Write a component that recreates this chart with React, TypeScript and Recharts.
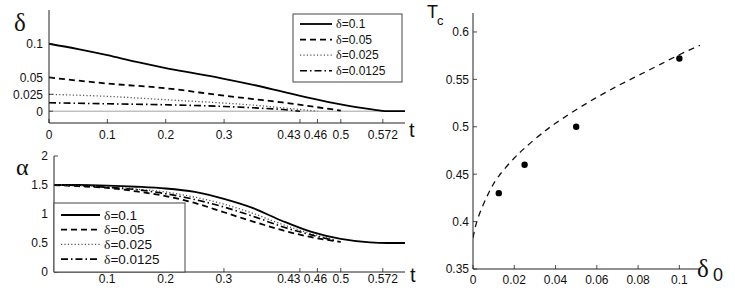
import React from 'react'
import {
  LineChart,
  ComposedChart,
  Line,
  Scatter,
  XAxis,
  YAxis,
  ReferenceLine
} from 'recharts'

// top panel: delta(t) for four initial deltas
const DELTA_T1 = [0, 0.05, 0.1, 0.15, 0.2, 0.25, 0.3, 0.35, 0.4, 0.45, 0.5, 0.55, 0.58, 0.61]
const DELTA_V1 = [0.1, 0.092, 0.083, 0.073, 0.064, 0.056, 0.048, 0.039, 0.029, 0.019, 0.01, 0.003, 0, 0]
const DELTA_T2 = [0, 0.1, 0.2, 0.3, 0.35, 0.4, 0.45, 0.5]
const DELTA_V2 = [0.05, 0.041, 0.034, 0.023, 0.018, 0.013, 0.007, 0.001]
const DELTA_T3 = [0, 0.1, 0.2, 0.3, 0.35, 0.4, 0.46]
const DELTA_V3 = [0.025, 0.022, 0.017, 0.012, 0.009, 0.005, 0]
const DELTA_T4 = [0, 0.1, 0.2, 0.3, 0.35, 0.4, 0.43]
const DELTA_V4 = [0.0125, 0.011, 0.0095, 0.007, 0.005, 0.0025, 0]

// bottom panel: alpha(t)
const ALPHA_T1 = [0.009, 0.05, 0.1, 0.15, 0.2, 0.25, 0.3, 0.35, 0.4, 0.45, 0.5, 0.55, 0.58, 0.61]
const ALPHA_V1 = [1.5, 1.5, 1.49, 1.47, 1.44, 1.38, 1.26, 1.1, 0.88, 0.69, 0.57, 0.51, 0.5, 0.5]
const ALPHA_T2 = [0.009, 0.05, 0.1, 0.15, 0.2, 0.25, 0.3, 0.35, 0.4, 0.45, 0.5]
const ALPHA_V2 = [1.5, 1.48, 1.45, 1.39, 1.31, 1.19, 1.03, 0.87, 0.72, 0.6, 0.52]
const ALPHA_T3 = [0.009, 0.05, 0.1, 0.15, 0.2, 0.25, 0.3, 0.35, 0.4, 0.45, 0.49]
const ALPHA_V3 = [1.5, 1.49, 1.47, 1.43, 1.38, 1.29, 1.17, 1.01, 0.82, 0.66, 0.55]
const ALPHA_T4 = [0.009, 0.05, 0.1, 0.15, 0.2, 0.25, 0.3, 0.35, 0.4, 0.45, 0.49]
const ALPHA_V4 = [1.5, 1.49, 1.46, 1.42, 1.35, 1.25, 1.12, 0.96, 0.78, 0.64, 0.54]

// right panel: Tc vs delta0
const TC_POINT_X = [0.0125, 0.025, 0.05, 0.1]
const TC_POINT_Y = [0.43, 0.46, 0.5, 0.572]
const TC_CURVE_X = [0, 0.002, 0.005, 0.008, 0.0125, 0.02, 0.025, 0.03, 0.035, 0.04, 0.05, 0.06, 0.07, 0.08, 0.09, 0.1, 0.11]
const TC_CURVE_Y = [0.383, 0.401, 0.418, 0.432, 0.448, 0.467, 0.4775, 0.487, 0.4957, 0.5037, 0.518, 0.531, 0.543, 0.554, 0.565, 0.576, 0.586]

const T_TICKS_TOP = [0, 0.1, 0.2, 0.3, 0.43, 0.46, 0.5, 0.572]
const T_TICKS_BOTTOM = [0.1, 0.2, 0.3, 0.43, 0.46, 0.5, 0.572]
const DELTA_TICKS = [0, 0.025, 0.05, 0.1]
const ALPHA_TICKS = [0, 0.5, 1, 1.5, 2]
const TC_X_TICKS = [0, 0.02, 0.04, 0.06, 0.08, 0.1]
const TC_Y_TICKS = [0.35, 0.4, 0.45, 0.5, 0.55, 0.6]
const LEGEND_LABELS = ['0.1', '0.05', '0.025', '0.0125']

const zip = (xs: number[], ys: number[]) => xs.map((x, i) => ({ x, y: ys[i] }))

const AX = '#222'
const SANS = '"Liberation Sans", Arial, Helvetica, sans-serif'
const SERIF = '"Liberation Serif", "Times New Roman", serif'
const TL = 4 // inward tick length
const TICK_FS = 12

const STYLES = [
  { stroke: '#000', strokeWidth: 1.8, dash: undefined },
  { stroke: '#000', strokeWidth: 1.8, dash: '6 4' },
  { stroke: '#555', strokeWidth: 1.3, dash: '1.2 2.2' },
  { stroke: '#000', strokeWidth: 1.6, dash: '7 3 1.5 3' }
]

// MATLAB style ticks: short marks pointing into the box, labels outside
const BottomTick = (props: any) => {
  const { x, y, payload, gap = 7 } = props
  const v = payload.value
  // 0.43 and 0.46 sit close together, nudge them apart a little
  const dx = v === 0.43 ? -11 : v === 0.46 ? -2 : 0
  return (
    <g>
      <line x1={x} x2={x} y1={y} y2={y - TL} stroke={AX} strokeWidth={0.8} />
      <text x={x + dx} y={y + gap} dy="0.71em" textAnchor="middle" fontSize={TICK_FS} fill="#111" fontFamily={SANS}>
        {String(v)}
      </text>
    </g>
  )
}

const LeftTick = (props: any) => {
  const { x, y, payload, gap = 6 } = props
  return (
    <g>
      <line x1={x} x2={x + TL} y1={y} y2={y} stroke={AX} strokeWidth={0.8} />
      <text x={x - gap} y={y} dy="0.36em" textAnchor="end" fontSize={TICK_FS} fill="#111" fontFamily={SANS}>
        {String(payload.value)}
      </text>
    </g>
  )
}

const TopTick = (props: any) => (
  <line x1={props.x} x2={props.x} y1={props.y} y2={props.y + TL} stroke={AX} strokeWidth={0.8} />
)

const RightTick = (props: any) => (
  <line x1={props.x} x2={props.x - TL} y1={props.y} y2={props.y} stroke={AX} strokeWidth={0.8} />
)

function Frame({ xDomain, yDomain, xTicks, yTicks, xHeight, yWidth, xGap, yGap }: any) {
  return [
    <XAxis key="xb" xAxisId="b" dataKey="x" type="number" domain={xDomain} ticks={xTicks} interval={0}
      allowDataOverflow height={xHeight} stroke={AX} tickLine={false} tickSize={0} tickMargin={0}
      tick={<BottomTick gap={xGap} />} />,
    <XAxis key="xt" xAxisId="top" orientation="top" dataKey="x" type="number" domain={xDomain} ticks={xTicks}
      interval={0} allowDataOverflow height={0} stroke={AX} tickLine={false} tickSize={0} tickMargin={0}
      tick={<TopTick />} />,
    <YAxis key="yl" yAxisId="l" dataKey="y" type="number" domain={yDomain} ticks={yTicks} interval={0}
      allowDataOverflow width={yWidth} stroke={AX} tickLine={false} tickSize={0} tickMargin={0}
      tick={<LeftTick gap={yGap} />} />,
    <YAxis key="yr" yAxisId="r" orientation="right" dataKey="y" type="number" domain={yDomain} ticks={yTicks}
      interval={0} allowDataOverflow width={0} stroke={AX} tickLine={false} tickSize={0} tickMargin={0}
      tick={<RightTick />} />
  ]
}

function Legend({ x, y, w, h, rowGap, first, sampleW, fontSize }: any) {
  return (
    <g>
      <rect x={x} y={y} width={w} height={h} fill="#fff" stroke="#444" strokeWidth={1} />
      {LEGEND_LABELS.map((lab, i) => {
        const cy = first + i * rowGap
        const s = STYLES[i]
        return (
          <g key={lab}>
            <line x1={x + 7} x2={x + 7 + sampleW} y1={cy} y2={cy} stroke={s.stroke} strokeWidth={s.strokeWidth} strokeDasharray={s.dash} />
            <text x={x + 11 + sampleW} y={cy + fontSize * 0.35} fontSize={fontSize} fontFamily={SANS} fill="#111">
              <tspan fontFamily={SERIF}>δ</tspan>=
              {lab}
            </text>
          </g>
        )
      })}
    </g>
  )
}

function DeltaPanel() {
  const series = [zip(DELTA_T1, DELTA_V1), zip(DELTA_T2, DELTA_V2), zip(DELTA_T3, DELTA_V3), zip(DELTA_T4, DELTA_V4)]
  return (
    <LineChart width={420} height={145} margin={{ top: 10, right: 15, bottom: 0, left: 0 }}>
      {Frame({ xDomain: [0, 0.61], yDomain: [-0.0175, 0.15], xTicks: T_TICKS_TOP, yTicks: DELTA_TICKS,
        xHeight: 22, yWidth: 49, xGap: 7, yGap: 6 })}
      <ReferenceLine xAxisId="b" yAxisId="l" y={0} stroke="#8a8a8a" strokeWidth={0.8} />
      {series.map((d, i) => (
        <Line key={i} xAxisId="b" yAxisId="l" data={d} dataKey="y" type="monotone" dot={false} activeDot={false}
          stroke={STYLES[i].stroke} strokeWidth={STYLES[i].strokeWidth} strokeDasharray={STYLES[i].dash}
          isAnimationActive={false} />
      ))}
    </LineChart>
  )
}

function AlphaPanel() {
  const series = [zip(ALPHA_T1, ALPHA_V1), zip(ALPHA_T2, ALPHA_V2), zip(ALPHA_T3, ALPHA_V3), zip(ALPHA_T4, ALPHA_V4)]
  return (
    <LineChart width={420} height={155} margin={{ top: 11, right: 15, bottom: 0, left: 0 }}>
      {Frame({ xDomain: [0.009, 0.61], yDomain: [0, 2], xTicks: T_TICKS_BOTTOM, yTicks: ALPHA_TICKS,
        xHeight: 28, yWidth: 54, xGap: 2, yGap: 6 })}
      {series.map((d, i) => (
        <Line key={i} xAxisId="b" yAxisId="l" data={d} dataKey="y" type="monotone" dot={false} activeDot={false}
          stroke={STYLES[i].stroke} strokeWidth={STYLES[i].strokeWidth} strokeDasharray={STYLES[i].dash}
          isAnimationActive={false} />
      ))}
    </LineChart>
  )
}

function TcPanel() {
  const points = zip(TC_POINT_X, TC_POINT_Y)
  const curve = zip(TC_CURVE_X, TC_CURVE_Y)
  return (
    <ComposedChart width={315} height={300} margin={{ top: 13, right: 35, bottom: 0, left: 0 }}>
      {Frame({ xDomain: [0, 0.11], yDomain: [0.35, 0.62], xTicks: TC_X_TICKS, yTicks: TC_Y_TICKS,
        xHeight: 31, yWidth: 53, xGap: 6, yGap: 4 })}
      <Line xAxisId="b" yAxisId="l" data={curve} dataKey="y" type="natural" dot={false} activeDot={false}
        stroke="#111" strokeWidth={1.3} strokeDasharray="6 5" isAnimationActive={false} />
      <Scatter xAxisId="b" yAxisId="l" data={points} dataKey="y" isAnimationActive={false}
        shape={(p: any) => <circle cx={p.cx} cy={p.cy} r={3.2} fill="#000" />} />
    </ComposedChart>
  )
}

export default function App() {
  return (
    <div style={{ position: 'absolute', left: 0, top: 0, width: 735, height: 300, background: '#fff', overflow: 'hidden' }}>
      <div style={{ position: 'absolute', left: 0, top: 0 }}>
        <DeltaPanel />
      </div>
      <div style={{ position: 'absolute', left: 0, top: 145 }}>
        <AlphaPanel />
      </div>
      <div style={{ position: 'absolute', left: 420, top: 0 }}>
        <TcPanel />
      </div>
      <svg width={735} height={300} style={{ position: 'absolute', left: 0, top: 0, pointerEvents: 'none' }}>
        <Legend x={293} y={14} w={109} h={68} rowGap={15.6} first={24} sampleW={32} fontSize={12} />
        <Legend x={54} y={203} w={131} h={69} rowGap={14.7} first={215} sampleW={39} fontSize={13.5} />
        <text x={14} y={31} fontSize={25} fontFamily={SERIF} fill="#111">δ</text>
        <text x={16} y={175} fontSize={24} fontFamily={SERIF} fill="#111">α</text>
        <text x={409} y={137} fontSize={20} fontFamily={SANS} fill="#111">t</text>
        <text x={410} y={282} fontSize={20} fontFamily={SANS} fill="#111">t</text>
        <text x={427} y={18} fontSize={18} fontFamily={SANS} fill="#111">T</text>
        <text x={437} y={25} fontSize={13} fontFamily={SANS} fill="#111">c</text>
        <text x={697} y={277} fontSize={25} fontFamily={SERIF} fill="#111">δ</text>
        <text x={713} y={281} fontSize={18} fontFamily={SANS} fill="#111">0</text>
      </svg>
    </div>
  )
}
